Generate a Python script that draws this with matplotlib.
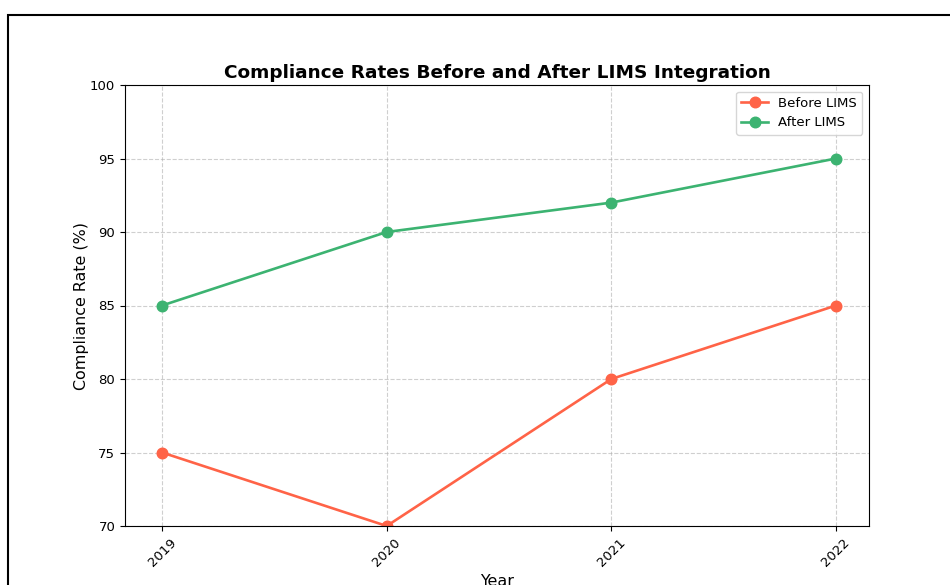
import matplotlib
matplotlib.use('Agg')
import matplotlib.pyplot as plt
from matplotlib.patches import Rectangle

years = [2019, 2020, 2021, 2022]
before_lims = [75, 70, 80, 85]
after_lims = [85, 90, 92, 95]

s = 0.95  # the reference looks rendered a bit smaller than default
plt.rcParams['font.size'] = 10 * s

fig = plt.figure(figsize=(9.5, 5.85), dpi=100)
ax = fig.add_axes([125/950, 1 - 526/585, (869 - 125)/950, (526 - 85)/585])

ax.plot(years, before_lims, marker='o', color='tomato', linewidth=2*s, markersize=8*s, label='Before LIMS')
ax.plot(years, after_lims, marker='o', color='mediumseagreen', linewidth=2*s, markersize=8*s, label='After LIMS')

ax.set_title('Compliance Rates Before and After LIMS Integration', fontsize=14*s, fontweight='bold', pad=5)
ax.set_xlabel('Year', fontsize=12*s)
ax.set_ylabel('Compliance Rate (%)', fontsize=12*s, labelpad=1)
ax.set_ylim(70, 100)
ax.set_xlim(2018.835, 2022.147)
ax.set_xticks(years)
ax.set_xticklabels([str(y) for y in years], rotation=45)
ax.grid(True, linestyle='--', alpha=0.6)
ax.legend(loc='upper right')

# outer frame of the original (larger) figure
fig.patches.append(Rectangle((8/950, -0.2), 2, 1.2 - 15/585, transform=fig.transFigure,
                             fill=False, edgecolor='black', linewidth=1.5))

fig.savefig('out.png', dpi=100)
